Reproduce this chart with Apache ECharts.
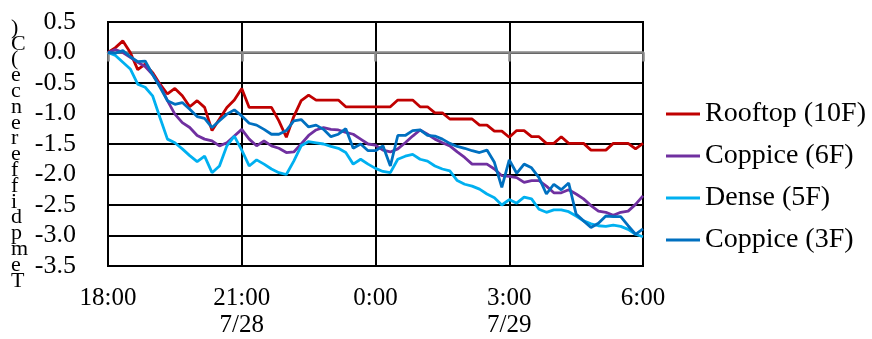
<!DOCTYPE html>
<html>
<head>
<meta charset="utf-8">
<script src="https://cdn.jsdelivr.net/npm/echarts@6/dist/echarts.min.js"></script>
<style>
  html, body { margin: 0; padding: 0; background: #fff; }
  #chart { width: 872px; height: 339px; }
</style>
</head>
<body>
<div id="chart"></div>
<script>
// 10-minute readings, 18:00 (7/28) to 6:00 (7/29)
const rooftop10F = [
  0.00, 0.08, 0.19, 0.00, -0.28, -0.19, -0.33, -0.52, -0.68, -0.59, -0.71, -0.89, -0.79, -0.90, -1.28, -1.09, -0.90, -0.78, -0.59,
  -0.90, -0.90, -0.90, -0.90, -1.12, -1.39, -1.05, -0.79, -0.70, -0.78, -0.78, -0.78, -0.78, -0.89, -0.89, -0.89, -0.89, -0.89,
  -0.89, -0.89, -0.78, -0.78, -0.78, -0.89, -0.89, -0.99, -0.99, -1.09, -1.09, -1.09, -1.09, -1.19, -1.19, -1.29, -1.29, -1.39,
  -1.28, -1.28, -1.38, -1.38, -1.49, -1.49, -1.38, -1.49, -1.49, -1.49, -1.60, -1.60, -1.60, -1.49, -1.49, -1.49, -1.58, -1.49
]
const coppice6F = [
  0.00, 0.05, 0.00, -0.08, -0.16, -0.23, -0.36, -0.54, -0.79, -1.01, -1.15, -1.23, -1.36, -1.42, -1.45, -1.53, -1.48, -1.37, -1.26,
  -1.42, -1.53, -1.45, -1.53, -1.57, -1.64, -1.63, -1.50, -1.36, -1.27, -1.23, -1.26, -1.27, -1.31, -1.34, -1.42, -1.50, -1.52,
  -1.60, -1.63, -1.58, -1.48, -1.37, -1.27, -1.34, -1.42, -1.48, -1.53, -1.63, -1.72, -1.83, -1.83, -1.83, -1.91, -2.02, -2.03,
  -2.05, -2.13, -2.10, -2.10, -2.19, -2.30, -2.30, -2.25, -2.32, -2.40, -2.51, -2.60, -2.62, -2.67, -2.62, -2.60, -2.49, -2.35
]
const dense5F = [
  0.00, -0.05, -0.16, -0.27, -0.52, -0.57, -0.71, -1.07, -1.42, -1.48, -1.58, -1.69, -1.79, -1.70, -1.97, -1.86, -1.53, -1.37, -1.60,
  -1.86, -1.76, -1.83, -1.91, -1.97, -2.00, -1.78, -1.53, -1.46, -1.48, -1.50, -1.54, -1.57, -1.64, -1.83, -1.75, -1.83, -1.90,
  -1.95, -1.97, -1.75, -1.70, -1.67, -1.75, -1.78, -1.86, -1.91, -1.94, -2.10, -2.16, -2.19, -2.24, -2.32, -2.38, -2.50, -2.41,
  -2.47, -2.37, -2.40, -2.57, -2.62, -2.58, -2.58, -2.61, -2.68, -2.76, -2.81, -2.84, -2.85, -2.83, -2.85, -2.90, -2.98, -3.02
]
const coppice3F = [
  0.00, -0.01, 0.03, -0.07, -0.15, -0.14, -0.36, -0.57, -0.79, -0.85, -0.82, -0.93, -1.05, -1.08, -1.23, -1.12, -1.01, -0.94, -1.04,
  -1.16, -1.19, -1.26, -1.34, -1.34, -1.28, -1.12, -1.10, -1.22, -1.19, -1.26, -1.38, -1.34, -1.25, -1.57, -1.50, -1.61, -1.61,
  -1.53, -1.86, -1.36, -1.36, -1.28, -1.27, -1.36, -1.37, -1.42, -1.49, -1.54, -1.57, -1.61, -1.64, -1.60, -1.80, -2.21, -1.76,
  -1.98, -1.83, -1.89, -2.05, -2.32, -2.16, -2.25, -2.14, -2.65, -2.76, -2.87, -2.80, -2.68, -2.69, -2.69, -2.84, -2.98, -2.89
]
const seriesNames = ['Rooftop (10F)', 'Coppice (6F)', 'Dense (5F)', 'Coppice (3F)']
const seriesColors = ['#C00000', '#7030A0', '#00B0F0', '#0070C0']

const timeLabels = ['18:00', '21:00', '0:00', '3:00', '6:00']
const dateLabels = ['', '7/28', '', '7/29', '']
const yTitle = 'Tempdifference(C)'

// category per 10 min
const times = []
for (let i = 0; i < rooftop10F.length; i++) {
  const m = (18 * 60 + i * 10) % (24 * 60)
  times.push(Math.floor(m / 60) + ':' + String(m % 60).padStart(2, '0'))
}

const FONT = 'Liberation Serif, Times New Roman, serif'
const chart = echarts.init(document.getElementById('chart'))

chart.setOption({
  animation: false,
  grid: { left: 108, right: 229, top: 22, bottom: 71, show: true, borderColor: '#000', borderWidth: 2 },
  legend: {
    orient: 'vertical', left: 661, top: 94, itemGap: 12,
    icon: 'rect', itemWidth: 34, itemHeight: 3,
    textStyle: { fontFamily: FONT, fontSize: 28, color: '#000', lineHeight: 30 },
    data: seriesNames
  },
  graphic: [{
    type: 'text', left: 11, top: 17, silent: true,
    style: {
      text: yTitle.split('').reverse().join('\n'),
      font: '22px ' + FONT, lineHeight: 15.8, fill: '#000', align: 'center'
    }
  }],
  xAxis: [
    {
      type: 'category', data: times, boundaryGap: false,
      axisLine: { onZero: false, lineStyle: { color: '#000', width: 2 } },
      axisTick: { show: false },
      axisLabel: {
        interval: 17, margin: 19, color: '#000', fontFamily: FONT, fontSize: 25, lineHeight: 27,
        formatter: (v, i) => {
          const k = i / 18
          return dateLabels[k] ? timeLabels[k] + '\n' + dateLabels[k] : timeLabels[k]
        }
      },
      splitLine: { show: true, interval: 17, lineStyle: { color: '#000', width: 2 } }
    },
    {
      type: 'category', data: times, boundaryGap: false, position: 'bottom',
      axisLine: { onZero: true, lineStyle: { color: '#898989', width: 2.5 } },
      axisTick: { show: true, interval: 17, length: 9, lineStyle: { color: '#898989', width: 2.5 } },
      axisLabel: { show: false },
      splitLine: { show: false }
    }
  ],
  yAxis: {
    type: 'value', min: -3.5, max: 0.5, interval: 0.5,
    axisLine: { show: false }, axisTick: { show: false },
    axisLabel: { margin: 32, color: '#000', fontFamily: FONT, fontSize: 26, formatter: v => v.toFixed(1) },
    splitLine: { lineStyle: { color: '#000', width: 2 } }
  },
  series: [rooftop10F, coppice6F, dense5F, coppice3F].map((d, k) => ({
    name: seriesNames[k], type: 'line', data: d, xAxisIndex: 0,
    symbol: 'none', color: seriesColors[k],
    lineStyle: { color: seriesColors[k], width: 2.8 }
  }))
})
</script>
</body>
</html>
